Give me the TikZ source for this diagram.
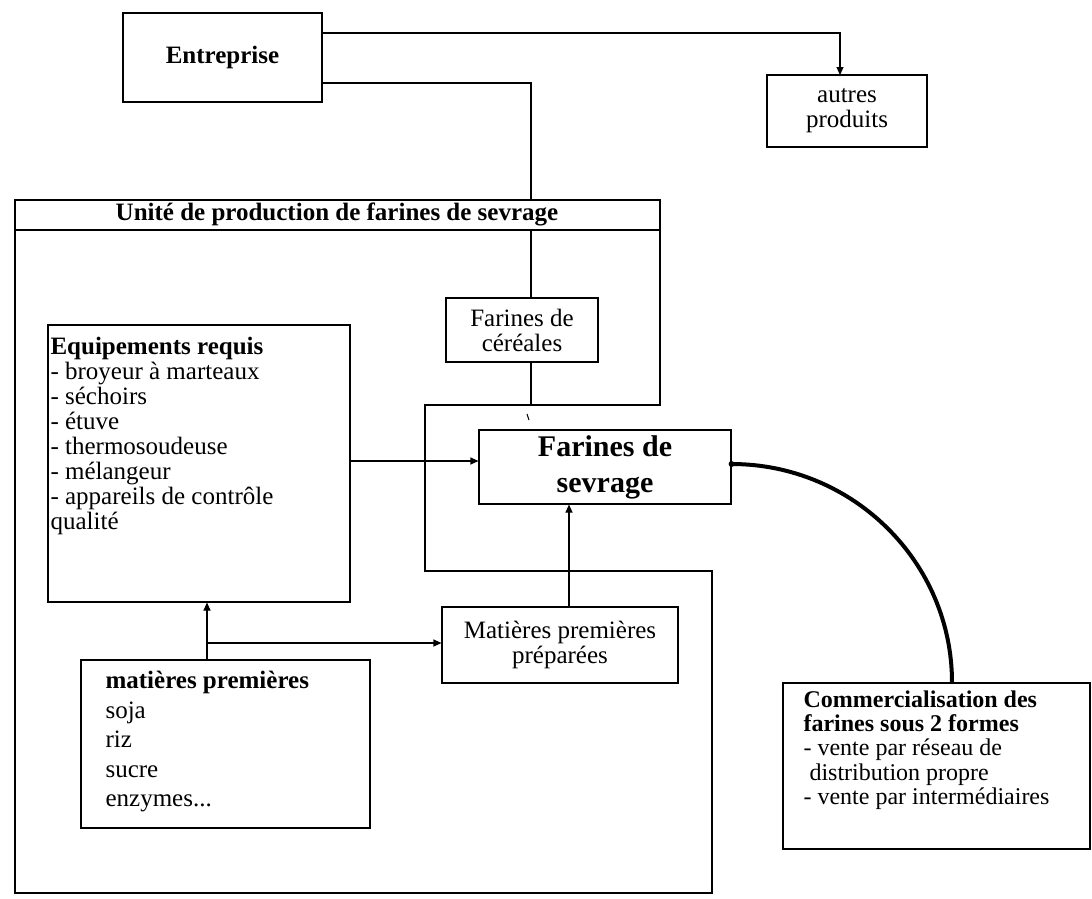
\documentclass[tikz,border=0pt]{standalone}
\usepackage{fontspec}
\setmainfont{Liberation Serif}
\usetikzlibrary{arrows.meta}
\begin{document}
\begin{tikzpicture}[x=1pt,y=-1pt,line width=1.1pt,
  box/.style={draw,rectangle,inner sep=0pt,align=center},
  tx/.style={font=\fontsize{25}{25}\selectfont},
  bx/.style={font=\bfseries\fontsize{25}{25}\selectfont},
  lefttext/.style={anchor=north west,align=left,inner sep=0pt},
  arr/.style={-{Triangle[length=8pt,width=7pt]}},
  heavy/.style={line width=4pt}]
\useasboundingbox (0,0) rectangle (1092,898);
\fill[white] (0,0) rectangle (1092,898);

% helper coordinates
\coordinate (y33) at (0,33);
\coordinate (y83) at (0,83);
\coordinate (y230) at (0,230);
\coordinate (y461) at (0,461);
\coordinate (y464) at (0,464);
\coordinate (x569) at (569,0);
\coordinate (x952) at (952,0);

% Entreprise and autres produits
\node[box,bx,minimum width=199pt,minimum height=89pt] (ent) at (222.5,57.5) {Entreprise};
\node[box,tx,minimum width=160pt,minimum height=72pt] (autres) at (847,111) {autres\\produits};
\coordinate (autrin) at (840,75);
\draw[arr] (ent.north east |- y33) -| (autrin);

% Unite de production
\coordinate (utop) at (531,200);
\draw (15,200) -- (660,200) -- (660,405) -- (425,405) -- (425,571) -- (712,571) -- (712,893) -- (15,893) -- cycle;
\draw (15,230) -- (660,230);
\node[bx] (utitle) at (337,214) {Unité de production de farines de sevrage};
\draw (ent.north east |- y83) -| (utop);

% Farines de cereales
\node[box,tx,minimum width=152pt,minimum height=64pt] (cer) at (522,330) {Farines de\\céréales};
\coordinate (cerj) at (531,405);
\draw (utop |- y230) -- (utop |- cer.north);
\draw (utop |- cer.south) -- (cerj);
\draw[line width=1pt] (527,414) -- (529,420);

% Farines de sevrage
\node[box,font=\bfseries\fontsize{30}{36}\selectfont,minimum width=252pt,minimum height=74pt] (fs) at (605,467) {Farines de\\sevrage};

% Equipements requis
\node[box,minimum width=302pt,minimum height=277pt] (eq) at (199,463.5) {};
\node[lefttext,tx] (eqt) at (50,337) {\textbf{Equipements requis}\\- broyeur à marteaux\\- séchoirs\\- étuve\\- thermosoudeuse\\- mélangeur\\- appareils de contrôle\\qualité};
\draw[arr] (eq.east |- y461) -- (fs.west |- y461);

% matieres premieres
\node[box,minimum width=289pt,minimum height=168pt] (mp) at (225.5,744) {};
\node[lefttext,font=\fontsize{25}{29.5}\selectfont] (mpt) at (105,671) {\textbf{matières premières}\\soja\\riz\\sucre\\enzymes...};

% Matieres premieres preparees
\node[box,tx,minimum width=236pt,minimum height=76pt] (mpp) at (560,645) {Matières premières\\préparées};

\coordinate (j1) at (207,643);
\draw[arr] (mp.north -| j1) -- (eq.south -| j1);
\draw[arr] (j1) -- (mpp.west |- j1);
\draw[arr] (mpp.north -| x569) -- (fs.south -| x569);

% Commercialisation
\node[box,minimum width=307pt,minimum height=166pt] (com) at (936.5,766) {};
\node[lefttext,font=\fontsize{24}{24.3}\selectfont] (comt) at (803,690) {\textbf{Commercialisation des}\\\textbf{farines sous 2 formes}\\- vente par réseau de\\\hspace*{6pt}distribution propre\\- vente par intermédiaires};

\draw[heavy] (fs.east |- y464) .. controls (853,464) and (952,562) .. (com.north -| x952);
\fill (fs.east |- y464) circle (3pt);
\end{tikzpicture}
\end{document}
